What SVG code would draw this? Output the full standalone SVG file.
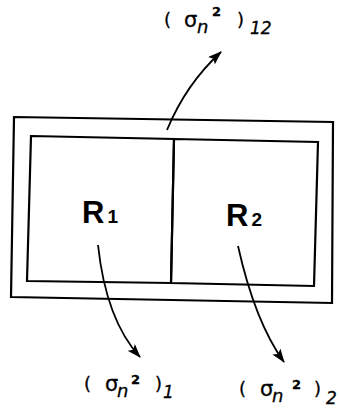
<svg xmlns="http://www.w3.org/2000/svg" width="339" height="408" viewBox="0 0 339 408">
<style>
.ln{fill:none;stroke:#000;stroke-width:2.2}
.cn{fill:none;stroke:#000;stroke-width:1.8}
.lb{font-family:"DejaVu Sans",sans-serif;font-size:18px;fill:#000;stroke:#000;stroke-width:0.3}
.s{font-size:21px}
.n{font-style:italic;font-size:18px}
.sup{font-size:13px;font-weight:bold}
.sub{font-style:italic;font-size:17px}
.rl{font-family:"Liberation Sans",Arial,sans-serif;font-weight:bold;fill:#000}
</style>
<defs>
<marker id="ah" markerWidth="14" markerHeight="10" refX="13" refY="5" orient="auto" markerUnits="userSpaceOnUse">
<path d="M0,0 L14,5 L0,10 L3,5 Z" fill="#000"/>
</marker>
</defs>
<rect width="339" height="408" fill="#fff"/>
<g id="outer">
<polygon class="ln" points="14,117 333,122 332,303 11,297"/>
</g>
<g id="R1">
<polygon class="ln" points="31,136 174,139 171,283 27,281"/>
<text class="rl" x="82" y="223" font-size="31">R<tspan font-size="19" dx="3">1</tspan></text>
</g>
<g id="R2">
<polygon class="ln" points="174,139 318,142 314,286 171,283"/>
<text class="rl" x="226" y="226" font-size="31">R<tspan font-size="19" dx="3">2</tspan></text>
</g>
<g id="connectors">
<path class="cn" d="M167,130 Q186,84 221,52" marker-end="url(#ah)"/>
<path class="cn" d="M98,245 Q106,320 140,357" marker-end="url(#ah)"/>
<path class="cn" d="M238,246 Q255,322 284,362" marker-end="url(#ah)"/>
</g>
<g id="label12">
<text class="lb"><tspan x="164" y="26">(</tspan><tspan class="s" x="184" y="27">σ</tspan><tspan class="n" x="197" y="33">n</tspan><tspan class="sup" x="212" y="16">2</tspan><tspan x="237" y="26">)</tspan><tspan class="sub" x="250" y="34">12</tspan></text>
</g>
<g id="label1">
<text class="lb"><tspan x="84" y="390">(</tspan><tspan class="s" x="105" y="391">σ</tspan><tspan class="n" x="117" y="397">n</tspan><tspan class="sup" x="131" y="384">2</tspan><tspan x="155" y="390">)</tspan><tspan class="sub" x="163" y="398">1</tspan></text>
</g>
<g id="label2">
<text class="lb"><tspan x="239" y="395">(</tspan><tspan class="s" x="260" y="396">σ</tspan><tspan class="n" x="272" y="402">n</tspan><tspan class="sup" x="292" y="389">2</tspan><tspan x="314" y="395">)</tspan><tspan class="sub" x="326" y="404">2</tspan></text>
</g>
</svg>
